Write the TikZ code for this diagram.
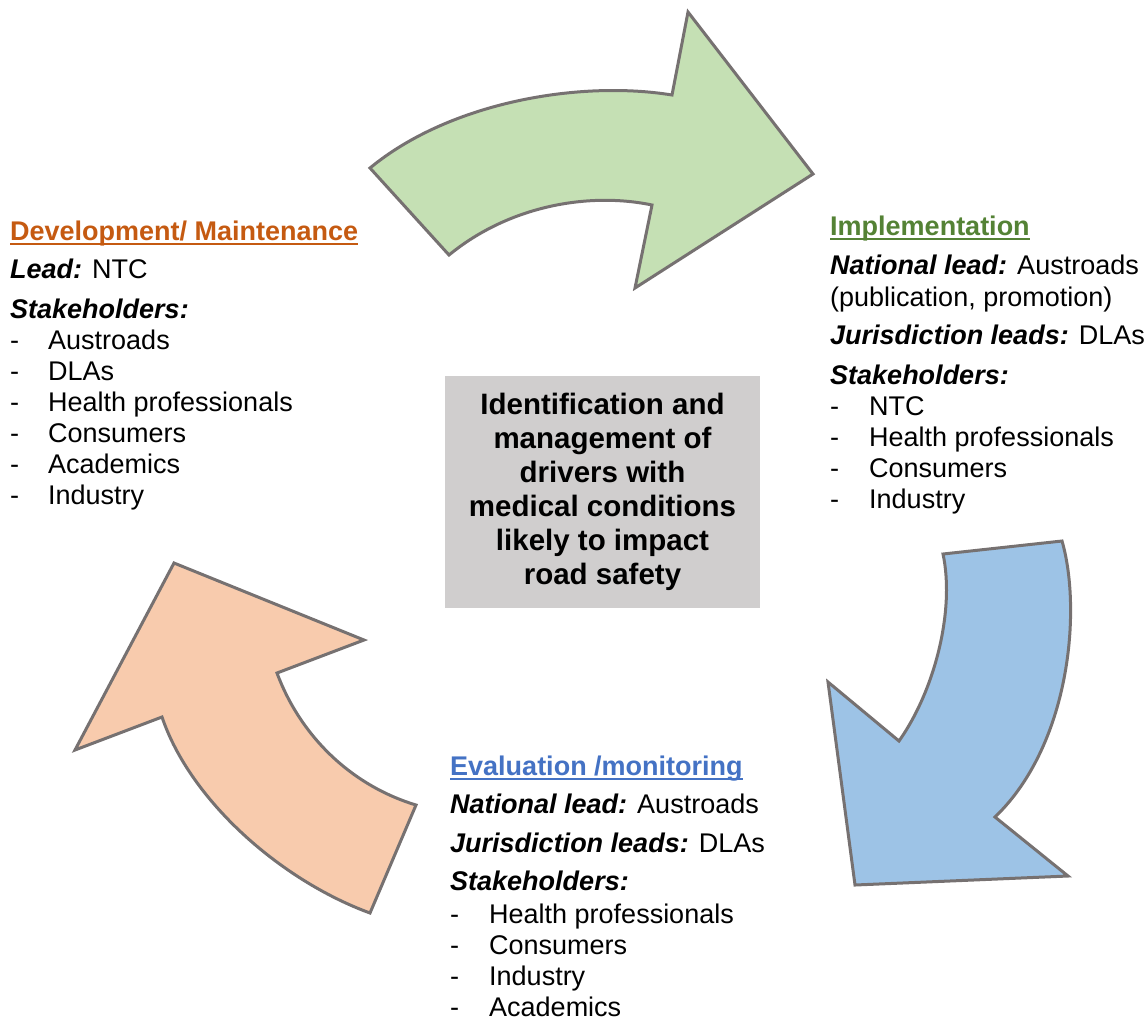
\documentclass[tikz,border=0pt]{standalone}
\usepackage{fontspec}
\setmainfont{Liberation Sans}
\usepackage{tikz}
\usetikzlibrary{positioning}
\definecolor{devorange}{RGB}{197,90,17}
\definecolor{implgreen}{RGB}{84,130,53}
\definecolor{evalblue}{RGB}{68,114,196}
\definecolor{greenfill}{RGB}{197,224,180}
\definecolor{bluefill}{RGB}{157,195,230}
\definecolor{orangefill}{RGB}{248,203,173}
\definecolor{boxgrey}{RGB}{208,206,206}
\definecolor{edgegrey}{RGB}{118,113,113}
\newcommand{\rolename}[1]{{\bfseries\itshape #1}}

\begin{document}
\begin{tikzpicture}[x=1pt, y=-1pt,
  txt/.style={anchor=base west, inner sep=0pt, font=\fontsize{27}{31}\selectfont},
  head/.style={txt, font=\fontsize{27}{31}\selectfont\bfseries},
  cyclearrow/.style={draw=edgegrey, line width=3pt, line join=miter}]
  \useasboundingbox (0,0) rectangle (1147,1021);

  % the three curved arrows of the cycle
  \filldraw[cyclearrow, fill=greenfill]
    (370,168) -- (449,255) .. controls (510,205) and (590,192) .. (652,205)
    -- (635,288) -- (813,174) -- (688,12) -- (672,95)
    .. controls (580,80) and (450,102) .. (370,168) -- cycle;
  \filldraw[cyclearrow, fill=bluefill]
    (943,554) -- (1062,541) .. controls (1082,610) and (1070,745) .. (995,817)
    -- (1068,876) -- (855,885) -- (828,682) -- (899,741)
    .. controls (935,690) and (955,610) .. (943,554) -- cycle;
  \filldraw[cyclearrow, fill=orangefill]
    (416,805) -- (370,913) .. controls (280,880) and (190,800) .. (162,717)
    -- (75,750) -- (174,563) -- (364,640) -- (277,673)
    .. controls (300,735) and (350,785) .. (416,805) -- cycle;

  % centre box
  \node[fill=boxgrey, minimum width=315pt, minimum height=232pt, align=center,
        font=\fontsize{29.5}{34}\selectfont\bfseries] (centre) at (602.5,492)
    {Identification and\\management of\\drivers with\\medical conditions\\likely to impact\\road safety};

  % development / maintenance
  \node[head, devorange] (devtitle) at (10,240) {Development/ Maintenance};
  \draw[devorange, line width=2pt] ([yshift=-4pt]devtitle.base west) -- ([yshift=-4pt]devtitle.base east);
  \node[txt] (devlead) at (10,278) {\rolename{Lead:} NTC};
  \node[txt] (devstake) at (10,318) {\rolename{Stakeholders:}};
  \foreach \who [count=\i] in {Austroads, DLAs, Health professionals, Consumers, Academics, Industry} {
    \node[txt] (devdash\i) at (10,318+31*\i) {-};
    \node[txt] (devitem\i) at (48,318+31*\i) {\who};
  }

  % implementation
  \node[head, implgreen] (imptitle) at (830,235) {Implementation};
  \draw[implgreen, line width=2pt] ([yshift=-4pt]imptitle.base west) -- ([yshift=-4pt]imptitle.base east);
  \node[txt] (implead) at (830,274) {\rolename{National lead:} Austroads};
  \node[txt] (impnote) at (830,306) {(publication, promotion)};
  \node[txt] (impjur) at (830,344) {\rolename{Jurisdiction leads:} DLAs};
  \node[txt] (impstake) at (830,384) {\rolename{Stakeholders:}};
  \foreach \who [count=\i] in {NTC, Health professionals, Consumers, Industry} {
    \node[txt] (impdash\i) at (830,384+31*\i) {-};
    \node[txt] (impitem\i) at (869,384+31*\i) {\who};
  }

  % evaluation / monitoring
  \node[head, evalblue] (evaltitle) at (450,775) {Evaluation /monitoring};
  \draw[evalblue, line width=2pt] ([yshift=-4pt]evaltitle.base west) -- ([yshift=-4pt]evaltitle.base east);
  \node[txt] (evallead) at (450,813) {\rolename{National lead:} Austroads};
  \node[txt] (evaljur) at (450,852) {\rolename{Jurisdiction leads:} DLAs};
  \node[txt] (evalstake) at (450,890) {\rolename{Stakeholders:}};
  \foreach \who [count=\i] in {Health professionals, Consumers, Industry, Academics} {
    \node[txt] (evaldash\i) at (450,892+31*\i) {-};
    \node[txt] (evalitem\i) at (489,892+31*\i) {\who};
  }
\end{tikzpicture}
\end{document}
